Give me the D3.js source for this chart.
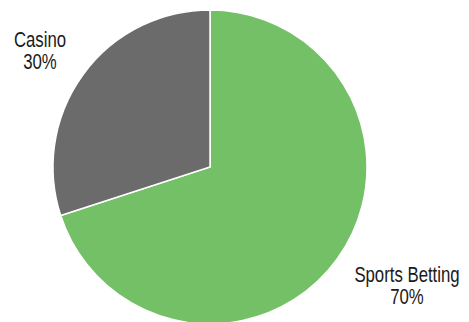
<!DOCTYPE html>
<html>
<head>
<meta charset="utf-8">
<script src="https://cdn.jsdelivr.net/npm/d3@7"></script>
<style>
  body { margin: 0; background: #fff; }
  text { font-family: "Liberation Sans", Arial, sans-serif; fill: #1a1a1a; }
</style>
</head>
<body>
<svg id="pie" width="469" height="322"></svg>
<script>
// data
const categories = ["Sports Betting", "Casino"];
const shares = [70, 30];
const colors = ["#74c067", "#6b6b6b"];

const svg = d3.select("#pie");
const cx = 210, cy = 167, radius = 157;

const g = svg.append("g")
    .attr("transform", "translate(" + cx + "," + cy + ")");

const pie = d3.pie().sort(null).value(d => d.value);
const arc = d3.arc().innerRadius(0).outerRadius(radius);

const data = categories.map((c, i) => ({ name: c, value: shares[i], color: colors[i] }));

g.selectAll("path")
    .data(pie(data))
    .enter().append("path")
    .attr("d", arc)
    .attr("fill", d => d.data.color)
    .attr("stroke", "#fff")
    .attr("stroke-width", 1.5);

// labels sit outside the pie; the original font is a narrow face, so squeeze it
const labelPos = [[407, 282], [40, 47]];
const lbl = svg.selectAll("g.lbl")
    .data(data)
    .enter().append("g")
    .attr("class", "lbl")
    .attr("transform", (d, i) => "translate(" + labelPos[i][0] + "," + labelPos[i][1] + ") scale(0.78,1)")
    .append("text")
    .attr("text-anchor", "middle")
    .attr("font-size", 21.5);

lbl.append("tspan")
    .attr("x", 0)
    .attr("y", 0)
    .text(d => d.name);
lbl.append("tspan")
    .attr("x", 0)
    .attr("dy", 22.5)
    .text(d => d.value + "%");
</script>
</body>
</html>
